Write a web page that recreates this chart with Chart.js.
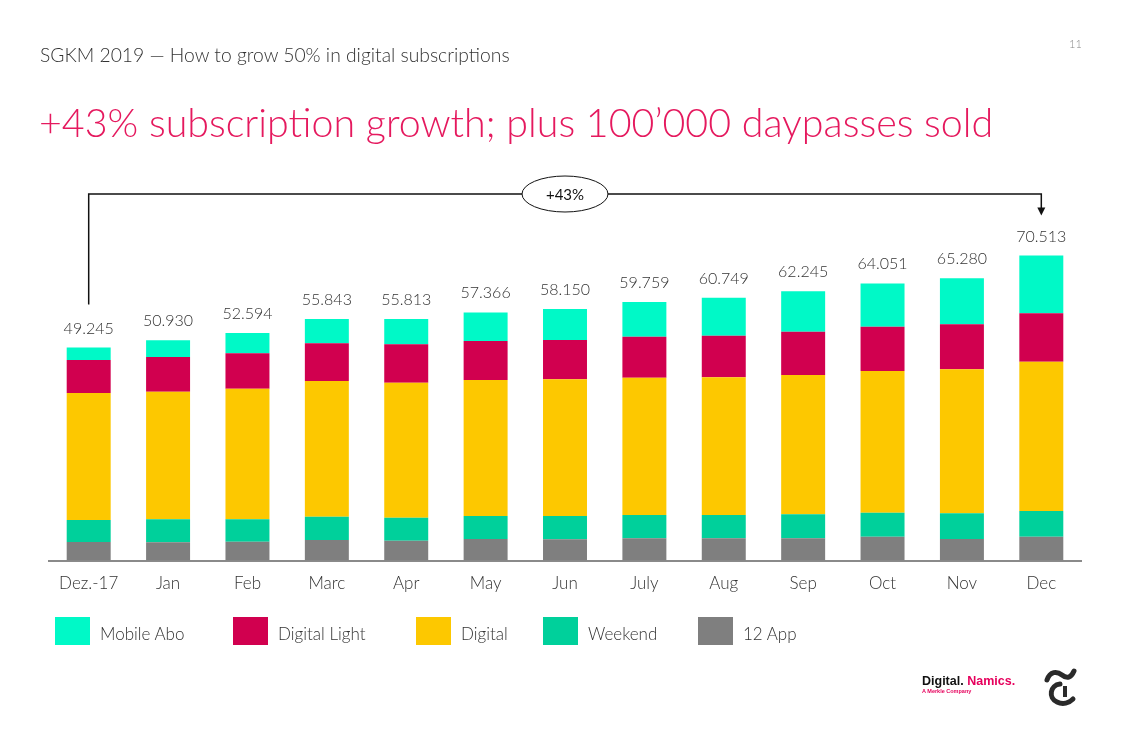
<!DOCTYPE html>
<html>
<head>
<meta charset="utf-8">
<script src="https://cdn.jsdelivr.net/npm/chart.js@4.4.0/dist/chart.umd.min.js"></script>
<style>
  body { margin: 0; background: #fff; font-family: Lato, "Open Sans", sans-serif; }
  #wrap { position: relative; width: 1122px; height: 748px; overflow: hidden; }
  #chart { position: absolute; left: 0; top: 0; }
  .txt { position: absolute; white-space: nowrap; font-weight: 300; color: #333; }
  .sw { position: absolute; width: 35px; height: 28px; top: 617px; }
  .lg { position: absolute; top: 623px; font-size: 17px; font-weight: 300; color: #333; }
</style>
</head>
<body>
<div id="wrap">
  <canvas id="chart" width="1122" height="748"></canvas>

  <div class="txt" style="left:40px; top:43px; font-size:19.3px;">SGKM 2019 — How to grow 50% in digital subscriptions</div>
  <div class="txt" style="left:1069px; top:37px; font-size:11px; color:#888;">11</div>
  <div class="txt" style="left:39px; top:98px; font-size:39.4px; color:#e5195e;">+43% subscription growth; plus 100’000 daypasses sold</div>

  <div id="legend"></div>

  <div style="position:absolute; left:922px; top:674px; font:bold 12.5px 'Liberation Sans', Arial, sans-serif; color:#111;">Digital. <span style="color:#e6005c;">Namics.</span></div>
  <div style="position:absolute; left:922px; top:688px; font:bold 5.5px 'Liberation Sans', Arial, sans-serif; color:#e6005c;">A Merkle Company</div>
  <svg style="position:absolute; left:0; top:0;" width="1122" height="748">
    <path d="M1047 680 C1050 671, 1057 671, 1062 675 S1071 678, 1074 671" fill="none" stroke="#2a2a2a" stroke-width="5" stroke-linecap="round"/>
    <path d="M1060 684 C1050 685, 1048 698, 1057 702 C1063 705, 1069 703, 1073 699" fill="none" stroke="#2a2a2a" stroke-width="5" stroke-linecap="round"/>
    <rect x="1063" y="686" width="4" height="11" fill="#2a2a2a"/>
  </svg>
</div>

<script>
const months = ["Dez.-17", "Jan", "Feb", "Marc", "Apr", "May", "Jun", "July", "Aug", "Sep", "Oct", "Nov", "Dec"];

const mobileAbo    = [2890, 3890, 4684, 5623, 5823, 6616, 7170, 8019, 8769, 9345, 10001, 10680, 13363];
const digitalLight = [7630, 8020, 8180, 8720, 8880, 9020, 9090, 9480, 9620, 10010, 10240, 10400, 11190];
const digital      = [29362, 29500, 30200, 31370, 31210, 31440, 31600, 31740, 31840, 32210, 32760, 33290, 34520];
const weekend      = [5086, 5320, 5180, 5390, 5320, 5320, 5390, 5390, 5390, 5550, 5550, 5940, 5940];
const app12        = [4277, 4200, 4350, 4740, 4580, 4970, 4900, 5130, 5130, 5130, 5500, 4970, 5500];

const growthLabel = "+43%";

// legend order (top of the stack first)
const series = [
  { label: "Mobile Abo", data: mobileAbo, color: "#00f9c7" },
  { label: "Digital Light", data: digitalLight, color: "#d1004f" },
  { label: "Digital", data: digital, color: "#fdc800" },
  { label: "Weekend", data: weekend, color: "#00d09b" },
  { label: "12 App", data: app12, color: "#7f7f7f" },
];

const totals = months.map((m, i) => series.reduce((s, d) => s + d.data[i], 0));

function fmt(n) {
  return n.toString().replace(/\B(?=(\d{3})+(?!\d))/g, ".");
}

const legendX = [55, 233, 416, 543, 698];
const legend = document.getElementById("legend");
series.forEach((s, i) => {
  legend.insertAdjacentHTML("beforeend",
    `<div class="sw" style="left:${legendX[i]}px; background:${s.color};"></div>` +
    `<div class="lg" style="left:${legendX[i] + 45}px;">${s.label}</div>`);
});

const overlay = {
  id: "overlay",
  afterDatasetsDraw(chart) {
    const ctx = chart.ctx;
    const xs = chart.scales.x, ys = chart.scales.y;
    ctx.save();

    // totals above bars
    ctx.font = "300 16px Lato, 'Open Sans', sans-serif";
    ctx.fillStyle = "#333";
    ctx.textAlign = "center";
    ctx.textBaseline = "alphabetic";
    totals.forEach((t, i) => {
      ctx.fillText(fmt(t), xs.getPixelForValue(i), ys.getPixelForValue(t) - 14);
    });

    // bracket with growth bubble
    const x0 = xs.getPixelForValue(0);
    const x1 = xs.getPixelForValue(months.length - 1);
    const lineY = 194;
    const y0 = ys.getPixelForValue(totals[0]) - 43;
    const y1 = ys.getPixelForValue(totals[totals.length - 1]) - 40;
    ctx.strokeStyle = "#111";
    ctx.lineWidth = 1.5;
    ctx.beginPath();
    ctx.moveTo(x0, y0);
    ctx.lineTo(x0, lineY);
    ctx.lineTo(x1, lineY);
    ctx.lineTo(x1, y1 - 7);
    ctx.stroke();
    ctx.fillStyle = "#111";
    ctx.beginPath();
    ctx.moveTo(x1 - 4, y1 - 8);
    ctx.lineTo(x1 + 4, y1 - 8);
    ctx.lineTo(x1, y1);
    ctx.closePath();
    ctx.fill();

    const cx = (x0 + x1) / 2;
    ctx.beginPath();
    ctx.ellipse(cx, lineY, 43, 18, 0, 0, Math.PI * 2);
    ctx.fillStyle = "#fff";
    ctx.fill();
    ctx.lineWidth = 1;
    ctx.stroke();
    ctx.fillStyle = "#111";
    ctx.font = "15px Lato, 'Open Sans', sans-serif";
    ctx.textBaseline = "middle";
    ctx.fillText(growthLabel, cx, lineY + 1);
    ctx.restore();
  }
};

new Chart(document.getElementById("chart"), {
  type: "bar",
  data: {
    labels: months,
    // first dataset sits at the bottom of the stack
    datasets: series.slice().reverse().map(s => ({
      label: s.label,
      data: s.data,
      backgroundColor: s.color,
      borderWidth: 0,
      barPercentage: 0.554,
      categoryPercentage: 1,
    })),
  },
  options: {
    responsive: false,
    animation: false,
    layout: { padding: { left: 49, right: 41, top: 214.5, bottom: 0 } },
    plugins: {
      legend: { display: false },
      tooltip: { enabled: false },
    },
    scales: {
      x: {
        stacked: true,
        grid: { display: false },
        border: { display: true, color: "#8a8a8a", width: 2 },
        ticks: {
          color: "#333",
          padding: 5,
          font: { family: "Lato, 'Open Sans', sans-serif", size: 17, weight: 300 },
        },
        afterFit: (scale) => { scale.height = 187.5; },
      },
      y: {
        stacked: true,
        display: false,
        min: 0,
        max: 80000,
      },
    },
  },
  plugins: [overlay],
});
</script>
</body>
</html>
